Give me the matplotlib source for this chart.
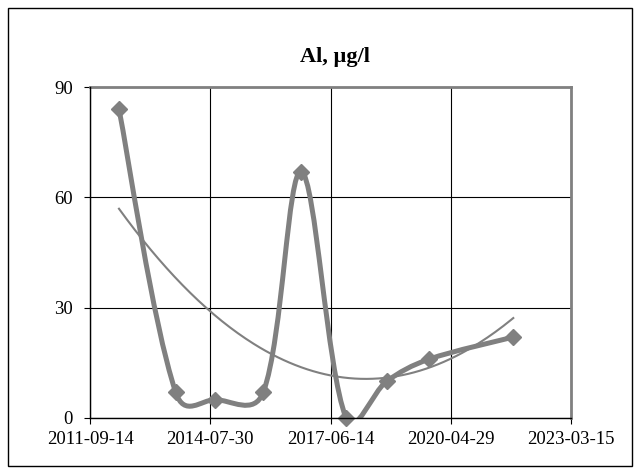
import numpy as np
import pandas as pd
import matplotlib
matplotlib.use("Agg")
import matplotlib.pyplot as plt
import matplotlib.dates as mdates
from matplotlib.path import Path
from matplotlib.patches import PathPatch, Rectangle

plt.rcParams['font.family'] = ['Liberation Serif', 'DejaVu Serif']

# sampling dates and Al concentrations (ug/l)
dates = pd.to_datetime(['2012-05-24', '2013-10-01', '2014-09-11', '2015-11-05',
                        '2016-10-02', '2017-10-28', '2018-10-18', '2019-10-23',
                        '2021-10-27'])
al = [84, 7, 5, 7, 67, 0, 10, 16, 22]
xticks = pd.to_datetime(['2011-09-14', '2014-07-30', '2017-06-14', '2020-04-29', '2023-03-15'])
yticks = [0, 30, 60, 90]

grey = '#808080'

fig = plt.figure(figsize=(6.4, 4.76), dpi=100)
ax = fig.add_axes([90/640, 58/476, 481/640, 331/476])

x = mdates.date2num(dates)
y = np.array(al, dtype=float)
x0, x1 = mdates.date2num(xticks[0]), mdates.date2num(xticks[-1])
ax.set_xlim(x0, x1)
ax.set_ylim(0, 90)

# smoothed line: bezier segments, tangents weighted by sqrt chord length (pixel space)
sx = 481 / (x1 - x0)
sy = 331 / 90.0
px, py = x * sx, y * sy
n = len(x)
dist = np.sqrt(np.hypot(np.diff(px), np.diff(py)))
verts = [(x[0], y[0])]
codes = [Path.MOVETO]
for i in range(n - 1):
    a = max(i - 1, 0)
    d = min(i + 2, n - 1)
    f1 = dist[i] / (dist[i - 1] + dist[i]) / 3 if i > 0 else 1 / 6
    f2 = dist[i] / (dist[i] + dist[i + 1]) / 3 if i + 1 < n - 1 else 1 / 6
    c1 = (px[i] + (px[i+1] - px[a]) * f1, py[i] + (py[i+1] - py[a]) * f1)
    c2 = (px[i+1] - (px[d] - px[i]) * f2, py[i+1] - (py[d] - py[i]) * f2)
    verts += [(c1[0] / sx, c1[1] / sy), (c2[0] / sx, c2[1] / sy), (x[i+1], y[i+1])]
    codes += [Path.CURVE4] * 3
ax.add_patch(PathPatch(Path(verts, codes), fill=False, edgecolor=grey, lw=3.6,
                       capstyle='round', joinstyle='round', zorder=3))
ax.plot(x, y, ls='none', marker='D', ms=8, color=grey, clip_on=False, zorder=4)

# polynomial (order 2) trend line
coef = np.polyfit(x - x[0], y, 2)
xt = np.linspace(x[0], x[-1], 200)
ax.plot(xt, np.polyval(coef, xt - x[0]), color=grey, lw=1.5, zorder=2)

ax.set_xticks(mdates.date2num(xticks))
ax.set_xticklabels([d.strftime('%Y-%m-%d') for d in xticks])
ax.set_yticks(yticks)
ax.grid(True, color='black', lw=0.8)
ax.set_axisbelow(True)
ax.tick_params(direction='out', length=4.3, width=0.8, labelsize=13.5, colors='black')
ax.tick_params(axis='y', pad=8)
ax.tick_params(axis='x', pad=5)
for s in ['top', 'right']:
    ax.spines[s].set_color(grey)
    ax.spines[s].set_linewidth(2)
for s in ['left', 'bottom']:
    ax.spines[s].set_color('black')
    ax.spines[s].set_linewidth(1)
    ax.spines[s].set_zorder(5)

fig.text(335/640, 1 - 57/476, 'Al, µg/l', ha='center', va='center',
         fontsize=16, fontweight='bold')
fig.patches.append(Rectangle((8/640, 10/476), 624/640, 458/476, transform=fig.transFigure,
                             fill=False, edgecolor='black', lw=1))

fig.savefig('out.png', dpi=100)
